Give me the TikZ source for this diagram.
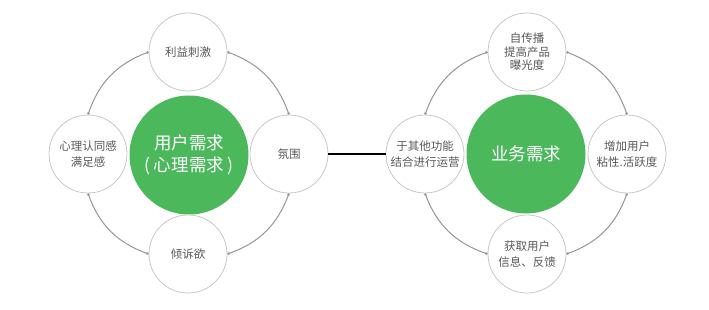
\documentclass[tikz,border=0pt]{standalone}
\usepackage{fontspec}
\setmainfont{Noto Sans CJK SC}
\usetikzlibrary{arrows.meta}
\definecolor{gfill}{RGB}{75,184,92}
\definecolor{ctext}{RGB}{89,89,89}
\definecolor{cline}{RGB}{200,200,200}
\definecolor{aline}{RGB}{150,150,150}
\tikzset{
  small/.style={circle,draw=cline,line width=0.8pt,fill=white,minimum size=78pt,inner sep=0pt,
    text=ctext,font=\fontsize{11.5pt}{15.5pt}\selectfont,align=center},
  smallthree/.style={small,font=\fontsize{11.5pt}{13.5pt}\selectfont},
  big/.style={circle,fill=gfill,minimum size=119pt,inner sep=0pt,text=white,
    font=\fontsize{17.5pt}{22pt}\selectfont,align=center},
  cyc/.style={draw=aline,line width=1pt,{Circle[length=2.5pt]}-{Circle[length=2.5pt]}},
  link/.style={draw=black,line width=1.3pt}
}
\begin{document}
\begin{tikzpicture}[x=1pt,y=-1pt]
\useasboundingbox (0,0) rectangle (709,310);
% left group
\node[big] (LC) at (189,155) {用户需求\\( 心理需求 )};
\node[small] (LT) at (188,52) {利益刺激};
\node[small] (LL) at (88,154) {心理认同感\\满足感};
\node[small] (LR) at (289,154) {氛围};
\node[small] (LB) at (188,254) {倾诉欲};
\draw[cyc] (LT.east) to[bend left=25] (LR.north);
\draw[cyc] (LR.south) to[bend left=25] (LB.east);
\draw[cyc] (LB.west) to[bend left=25] (LL.south);
\draw[cyc] (LL.north) to[bend left=25] (LT.west);
% right group
\node[big] (RC) at (526,154) {业务需求};
\node[smallthree] (RT) at (527,52) {自传播\\提高产品\\曝光度};
\node[small] (RL) at (425,154) {于其他功能\\结合进行运营};
\node[small] (RR) at (627,154) {增加用户\\粘性.活跃度};
\node[small] (RB) at (527,254) {获取用户\\信息、反馈};
\draw[cyc] (RT.east) to[bend left=25] (RR.north);
\draw[cyc] (RR.south) to[bend left=25] (RB.east);
\draw[cyc] (RB.west) to[bend left=25] (RL.south);
\draw[cyc] (RL.north) to[bend left=25] (RT.west);
% link
\draw[link] (LR.east) -- (RL.west);
\end{tikzpicture}
\end{document}
